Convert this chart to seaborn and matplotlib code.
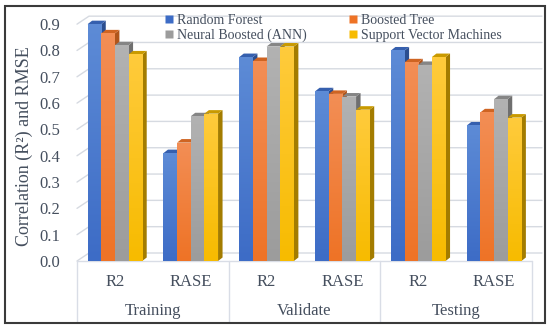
import numpy as np
import pandas as pd
import seaborn as sns
import matplotlib
matplotlib.use("Agg")
import matplotlib.pyplot as plt
from matplotlib.patches import Polygon, Rectangle
from matplotlib.colors import LinearSegmentedColormap
from matplotlib.lines import Line2D

# ---------------- data ----------------
groups = ["Training", "Validate", "Testing"]
metrics = ["R2", "RASE"]
models = ["Random Forest", "Boosted Tree", "Neural Boosted (ANN)", "Support Vector Machines"]
random_forest = [0.90, 0.41, 0.775, 0.645, 0.80, 0.515]
boosted_tree = [0.865, 0.45, 0.76, 0.635, 0.755, 0.565]
neural_boosted = [0.82, 0.55, 0.815, 0.625, 0.745, 0.615]
svm = [0.785, 0.56, 0.815, 0.575, 0.775, 0.545]
y_ticks = [0.0, 0.1, 0.2, 0.3, 0.4, 0.5, 0.6, 0.7, 0.8, 0.9]

series = [random_forest, boosted_tree, neural_boosted, svm]
cats = [f"{g} {m}" for g in groups for m in metrics]
rows = []
for mname, vals in zip(models, series):
    for c, v in zip(cats, vals):
        rows.append({"cat": c, "model": mname, "value": v})
df = pd.DataFrame(rows)

front_bottom = ["#3D6CC6", "#EE7326", "#9C9C9C", "#F7BB00"]
front_top = ["#5D8BD6", "#F38E55", "#B2B2B2", "#FFCB3C"]
side_col = ["#2B4E8F", "#B0551B", "#6F6F6F", "#A37C00"]
top_col = ["#355FAE", "#CF6422", "#858585", "#C99A00"]

# ---------------- figure ----------------
sns.set_theme(style="white")
plt.rcParams["font.family"] = ["Liberation Serif", "DejaVu Serif"]
text_col = "#454F5E"

W, H = 550, 330
fig = plt.figure(figsize=(5.5, 3.3), dpi=100)
ax_l, ax_b, ax_w, ax_h = 77, 69, 455, 250  # pixels
ax = fig.add_axes([ax_l / W, ax_b / H, ax_w / W, ax_h / H])

sns.barplot(data=df, x="cat", y="value", hue="model", order=cats, hue_order=models,
            palette=front_bottom, width=0.72, gap=0, saturation=1, legend=False,
            ax=ax, edgecolor="none", linewidth=0)

ax.set_xlim(-0.5, len(cats) - 0.5)
ax.set_ylim(0, 0.95)
px_x = ax_w / (len(cats))          # pixels per x unit
px_y = ax_h / 0.95                 # pixels per y unit

# ---- back-wall gridlines (3D look) ----
gdx, gdy = 12 / px_x, 8 / px_y
for v in y_ticks:
    ax.add_line(Line2D([-0.5, -0.5 + gdx, len(cats) - 0.5 + 10 / px_x],
                       [v, v + gdy, v + gdy], color="#D6DAE1", lw=1.0,
                       zorder=0.5, clip_on=False))

# ---- 3D bar faces ----
ddx, ddy = 4.5 / px_x, 3.5 / px_y
for hi, cont in enumerate(ax.containers):
    cmap = LinearSegmentedColormap.from_list("g", [front_bottom[hi], front_top[hi]])
    for bar in cont:
        x0, w, h = bar.get_x(), bar.get_width(), bar.get_height()
        zb = 2 + hi * 0.1
        bar.set_zorder(zb + 0.05)
        bar.set_facecolor(front_bottom[hi])
        grad = np.linspace(0, 1, 64).reshape(-1, 1)
        im = ax.imshow(grad, extent=[x0, x0 + w, 0, h], origin="lower", cmap=cmap,
                       aspect="auto", zorder=zb + 0.06, interpolation="bilinear")
        im.set_clip_path(bar)
        side = Polygon([(x0 + w, 0), (x0 + w + ddx, ddy), (x0 + w + ddx, h + ddy), (x0 + w, h)],
                       closed=True, facecolor=side_col[hi], edgecolor="none", zorder=zb)
        top = Polygon([(x0, h), (x0 + w, h), (x0 + w + ddx, h + ddy), (x0 + ddx, h + ddy)],
                      closed=True, facecolor=top_col[hi], edgecolor="none", zorder=zb)
        ax.add_patch(side)
        ax.add_patch(top)

ax.set_xlim(-0.5, len(cats) - 0.5)
ax.set_ylim(0, 0.95)

# ---- axes styling ----
for s in ax.spines.values():
    s.set_visible(False)
ax.set_yticks(y_ticks)
ax.set_yticklabels([f"{t:.1f}" for t in y_ticks], fontsize=12, color=text_col)
ax.tick_params(axis="y", length=0, pad=12)
ax.set_xticks([])
ax.set_xlabel("")
ax.set_ylabel("Correlation (R²) and RMSE", fontsize=13, color=text_col)
ax.yaxis.set_label_coords((33 - ax_l) / ax_w, (261 - 146) / ax_h)

# ---- category table below ----
xt = ax.get_xaxis_transform()
box_col = "#D9DDE6"
bottom_ax = -(ax_b - 8) / ax_h
ax.add_line(Line2D([-0.5, len(cats) - 0.5], [0, 0], transform=xt, color=box_col,
                   lw=1.0, clip_on=False, zorder=1))
for xb in [-0.5, 1.5, 3.5, 5.5]:
    ax.add_line(Line2D([xb, xb], [0, bottom_ax], transform=xt, color=box_col,
                       lw=1.0, clip_on=False, zorder=1))
for i, c in enumerate(cats):
    ax.text(i, -21 / ax_h, metrics[i % 2], transform=xt, ha="center", va="center",
            fontsize=12, color=text_col)
for gi, g in enumerate(groups):
    ax.text(gi * 2 + 0.5, -50 / ax_h, g, transform=xt, ha="center", va="center",
            fontsize=12, color=text_col)

# ---- legend ----
handles = {m: Line2D([], [], marker="s", ls="none", markersize=6,
                     markerfacecolor=c, markeredgecolor="none")
           for m, c in zip(models, front_bottom)}
order = [models[0], models[2], models[1], models[3]]
fig.legend([handles[m] for m in order], order, ncol=2, loc="upper left",
           bbox_to_anchor=(155 / W, 1 - 4 / H), frameon=False, fontsize=10,
           handlelength=0.6, handletextpad=0.3, columnspacing=3.0,
           labelspacing=0.15, borderpad=0.2, labelcolor=text_col)

# ---- outer frame ----
fig.patches.append(Rectangle((5 / W, 7 / H), 540 / W, 317 / H, transform=fig.transFigure,
                             fill=False, edgecolor="#3A3A3A", lw=1.5, zorder=10))

fig.savefig("out.png", dpi=100)
